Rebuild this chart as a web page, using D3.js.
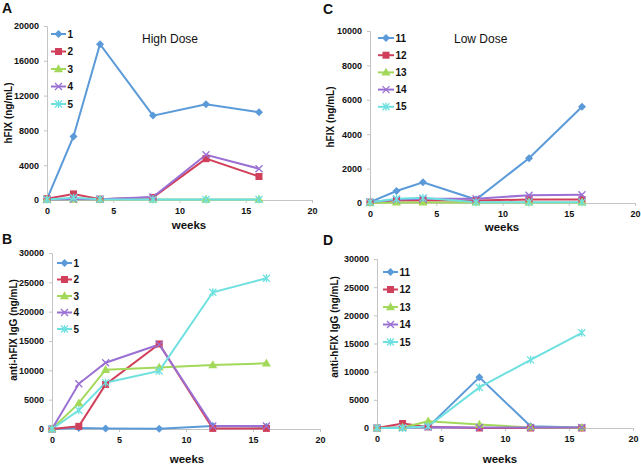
<!DOCTYPE html>
<html><head><meta charset="utf-8">
<script src="https://cdn.jsdelivr.net/npm/d3@7"></script>
<style>
body{margin:0;background:#fff;}
text{font-family:"Liberation Sans",Arial,sans-serif;}
</style></head>
<body><svg id="c" width="641" height="466"></svg>
<script>
// ---- data ----
const weeks = [0, 2, 4, 8, 12, 16];
const xTicks = [0, 5, 10, 15, 20];
const highNames = ["1", "2", "3", "4", "5"];
const lowNames = ["11", "12", "13", "14", "15"];
const fixHighTicks = [0, 4000, 8000, 12000, 16000, 20000];
const fixLowTicks = [0, 2000, 4000, 6000, 8000, 10000];
const iggTicks = [0, 5000, 10000, 15000, 20000, 25000, 30000];
// A: hFIX, high dose
const fixHigh = [
  [100, 7300, 17900, 9700, 11000, 10100],
  [150, 700, 100, 300, 4750, 2700],
  [50, 50, 50, 50, 50, 50],
  [50, 100, 100, 350, 5200, 3600],
  [50, 250, 100, 50, 50, 50]
];
// C: hFIX, low dose
const fixLow = [
  [50, 700, 1200, 200, 2600, 5600],
  [50, 150, 150, 150, 200, 200],
  [0, 30, 30, 30, 30, 30],
  [50, 200, 250, 250, 450, 480],
  [50, 250, 300, 50, 50, 50]
];
// B: anti-hFIX IgG, high dose
const iggHigh = [
  [0, 150, 100, 50, 500, 400],
  [0, 450, 7600, 14500, 100, 100],
  [0, 4400, 10100, 10500, 10900, 11200],
  [0, 7700, 11300, 14400, 500, 500],
  [0, 3200, 7900, 9900, 23300, 25700]
];
// D: anti-hFIX IgG, low dose
const iggLow = [
  [0, 100, 200, 9000, 300, 100],
  [0, 800, 200, 0, 0, 0],
  [0, 100, 1200, 600, 100, 50],
  [0, 50, 150, 100, 100, 100],
  [0, 0, 300, 7200, 12100, 16900]
];

// ---- styles ----
const colors = ["#5b9ad8", "#d0405a", "#a3d95a", "#9a70d4", "#6fe0e0"];
const markers = ["diamond", "square", "triangle", "x", "star"];

const panels = [
  {letter:"A", lx:2, ly:13, data:fixHigh, names:highNames, yMax:20000, yTicks:fixHighTicks,
   x0:47, x1:312, y0:200, y1:26, ytitle:"hFIX (ng/mL)", ytx:8, yty:113,
   wx:189, wy:229, leg:{x:51, y:34, dy:17.5, len:15}, dose:"High Dose", dx:142, dy:43},
  {letter:"C", lx:323, ly:14, data:fixLow, names:lowNames, yMax:10000, yTicks:fixLowTicks,
   x0:370, x1:635, y0:203, y1:31, ytitle:"hFIX (ng/mL)", ytx:330, yty:117,
   wx:502, wy:231, leg:{x:378, y:38, dy:17.2, len:16}, dose:"Low Dose", dx:454, dy:43},
  {letter:"B", lx:2, ly:244, data:iggHigh, names:highNames, yMax:30000, yTicks:iggTicks,
   x0:52, x1:320, y0:429, y1:253, ytitle:"anti-hFIX IgG (ng/mL)", ytx:13, yty:330,
   wx:187, wy:463, leg:{x:57, y:263, dy:16.5, len:15}},
  {letter:"D", lx:323, ly:245, data:iggLow, names:lowNames, yMax:30000, yTicks:iggTicks,
   x0:377, x1:633, y0:428, y1:259, ytitle:"anti-hFIX IgG (ng/mL)", ytx:334, yty:327,
   wx:500, wy:463, leg:{x:383, y:272, dy:17.5, len:15}}
];

const svg = d3.select("#c");
const axisCol = "#c4c4c4";

function drawMarker(g, type, x, y, col) {
  if (type === "diamond") {
    const r = 4;
    g.append("path").attr("d", `M${x},${y-r}L${x+r},${y}L${x},${y+r}L${x-r},${y}Z`).attr("fill", col);
  } else if (type === "square") {
    g.append("rect").attr("x", x - 3.5).attr("y", y - 3.5).attr("width", 7).attr("height", 7).attr("fill", col);
  } else if (type === "triangle") {
    g.append("path").attr("d", d3.symbol(d3.symbolTriangle, 36)())
      .attr("transform", `translate(${x},${y + 0.5})`).attr("fill", col);
  } else if (type === "x") {
    g.append("path").attr("d", `M${x-3.5},${y-3.5}L${x+3.5},${y+3.5}M${x-3.5},${y+3.5}L${x+3.5},${y-3.5}`)
      .attr("stroke", col).attr("stroke-width", 1.3).attr("fill", "none");
  } else if (type === "star") {
    g.append("path").attr("d", `M${x-3.5},${y-3.5}L${x+3.5},${y+3.5}M${x-3.5},${y+3.5}L${x+3.5},${y-3.5}M${x},${y-4}L${x},${y+4}`)
      .attr("stroke", col).attr("stroke-width", 1.3).attr("fill", "none");
  }
}

panels.forEach(p => {
  const g = svg.append("g");
  const x = d3.scaleLinear().domain([0, 20]).range([p.x0, p.x1]);
  const y = d3.scaleLinear().domain([0, p.yMax]).range([p.y0, p.y1]);

  // axes
  const xa = g.append("g").attr("transform", `translate(0,${p.y0})`)
    .call(d3.axisBottom(x).tickValues(xTicks).tickSize(3).tickPadding(5).tickFormat(d3.format("d")));
  const ya = g.append("g").attr("transform", `translate(${p.x0},0)`)
    .call(d3.axisLeft(y).tickValues(p.yTicks).tickSize(3).tickPadding(5).tickFormat(d3.format("d")));
  [xa, ya].forEach(a => {
    a.select(".domain").attr("stroke", axisCol).attr("stroke-width", 1);
    a.selectAll(".tick line").attr("stroke", axisCol);
    a.selectAll(".tick text").attr("fill", "#111").style("font-size", "9px").style("font-weight", "bold")
      .style("font-family", "'Liberation Sans',Arial,sans-serif");
  });

  // series
  const line = d3.line().x((d, i) => x(weeks[i])).y(d => y(d));
  p.data.forEach((vals, si) => {
    g.append("path").datum(vals).attr("d", line).attr("fill", "none")
      .attr("stroke", colors[si]).attr("stroke-width", 2);
  });
  p.data.forEach((vals, si) => {
    vals.forEach((v, i) => drawMarker(g, markers[si], x(weeks[i]), y(v), colors[si]));
  });

  // legend
  p.names.forEach((n, si) => {
    const ly = p.leg.y + si * p.leg.dy;
    g.append("line").attr("x1", p.leg.x).attr("x2", p.leg.x + p.leg.len).attr("y1", ly).attr("y2", ly)
      .attr("stroke", colors[si]).attr("stroke-width", 2);
    drawMarker(g, markers[si], p.leg.x + p.leg.len / 2, ly, colors[si]);
    g.append("text").attr("x", p.leg.x + p.leg.len + 1.5).attr("y", ly + 3.5)
      .style("font-size", "10px").style("font-weight", "bold").attr("fill", "#111").text(n);
  });

  // titles
  g.append("text").attr("x", p.wx).attr("y", p.wy).attr("text-anchor", "middle")
    .style("font-size", "11.5px").style("font-weight", "bold").attr("fill", "#111").text("weeks");
  g.append("text").attr("transform", `translate(${p.ytx},${p.yty}) rotate(-90)`).attr("text-anchor", "middle")
    .attr("dy", "0.35em").style("font-size", "10px").style("font-weight", "bold").attr("fill", "#111").text(p.ytitle);
  g.append("text").attr("x", p.lx).attr("y", p.ly).style("font-size", "14px").style("font-weight", "bold")
    .attr("fill", "#111").text(p.letter);
  if (p.dose) {
    g.append("text").attr("x", p.dx).attr("y", p.dy).style("font-size", "12px").attr("fill", "#111").text(p.dose);
  }
});
</script></body></html>
